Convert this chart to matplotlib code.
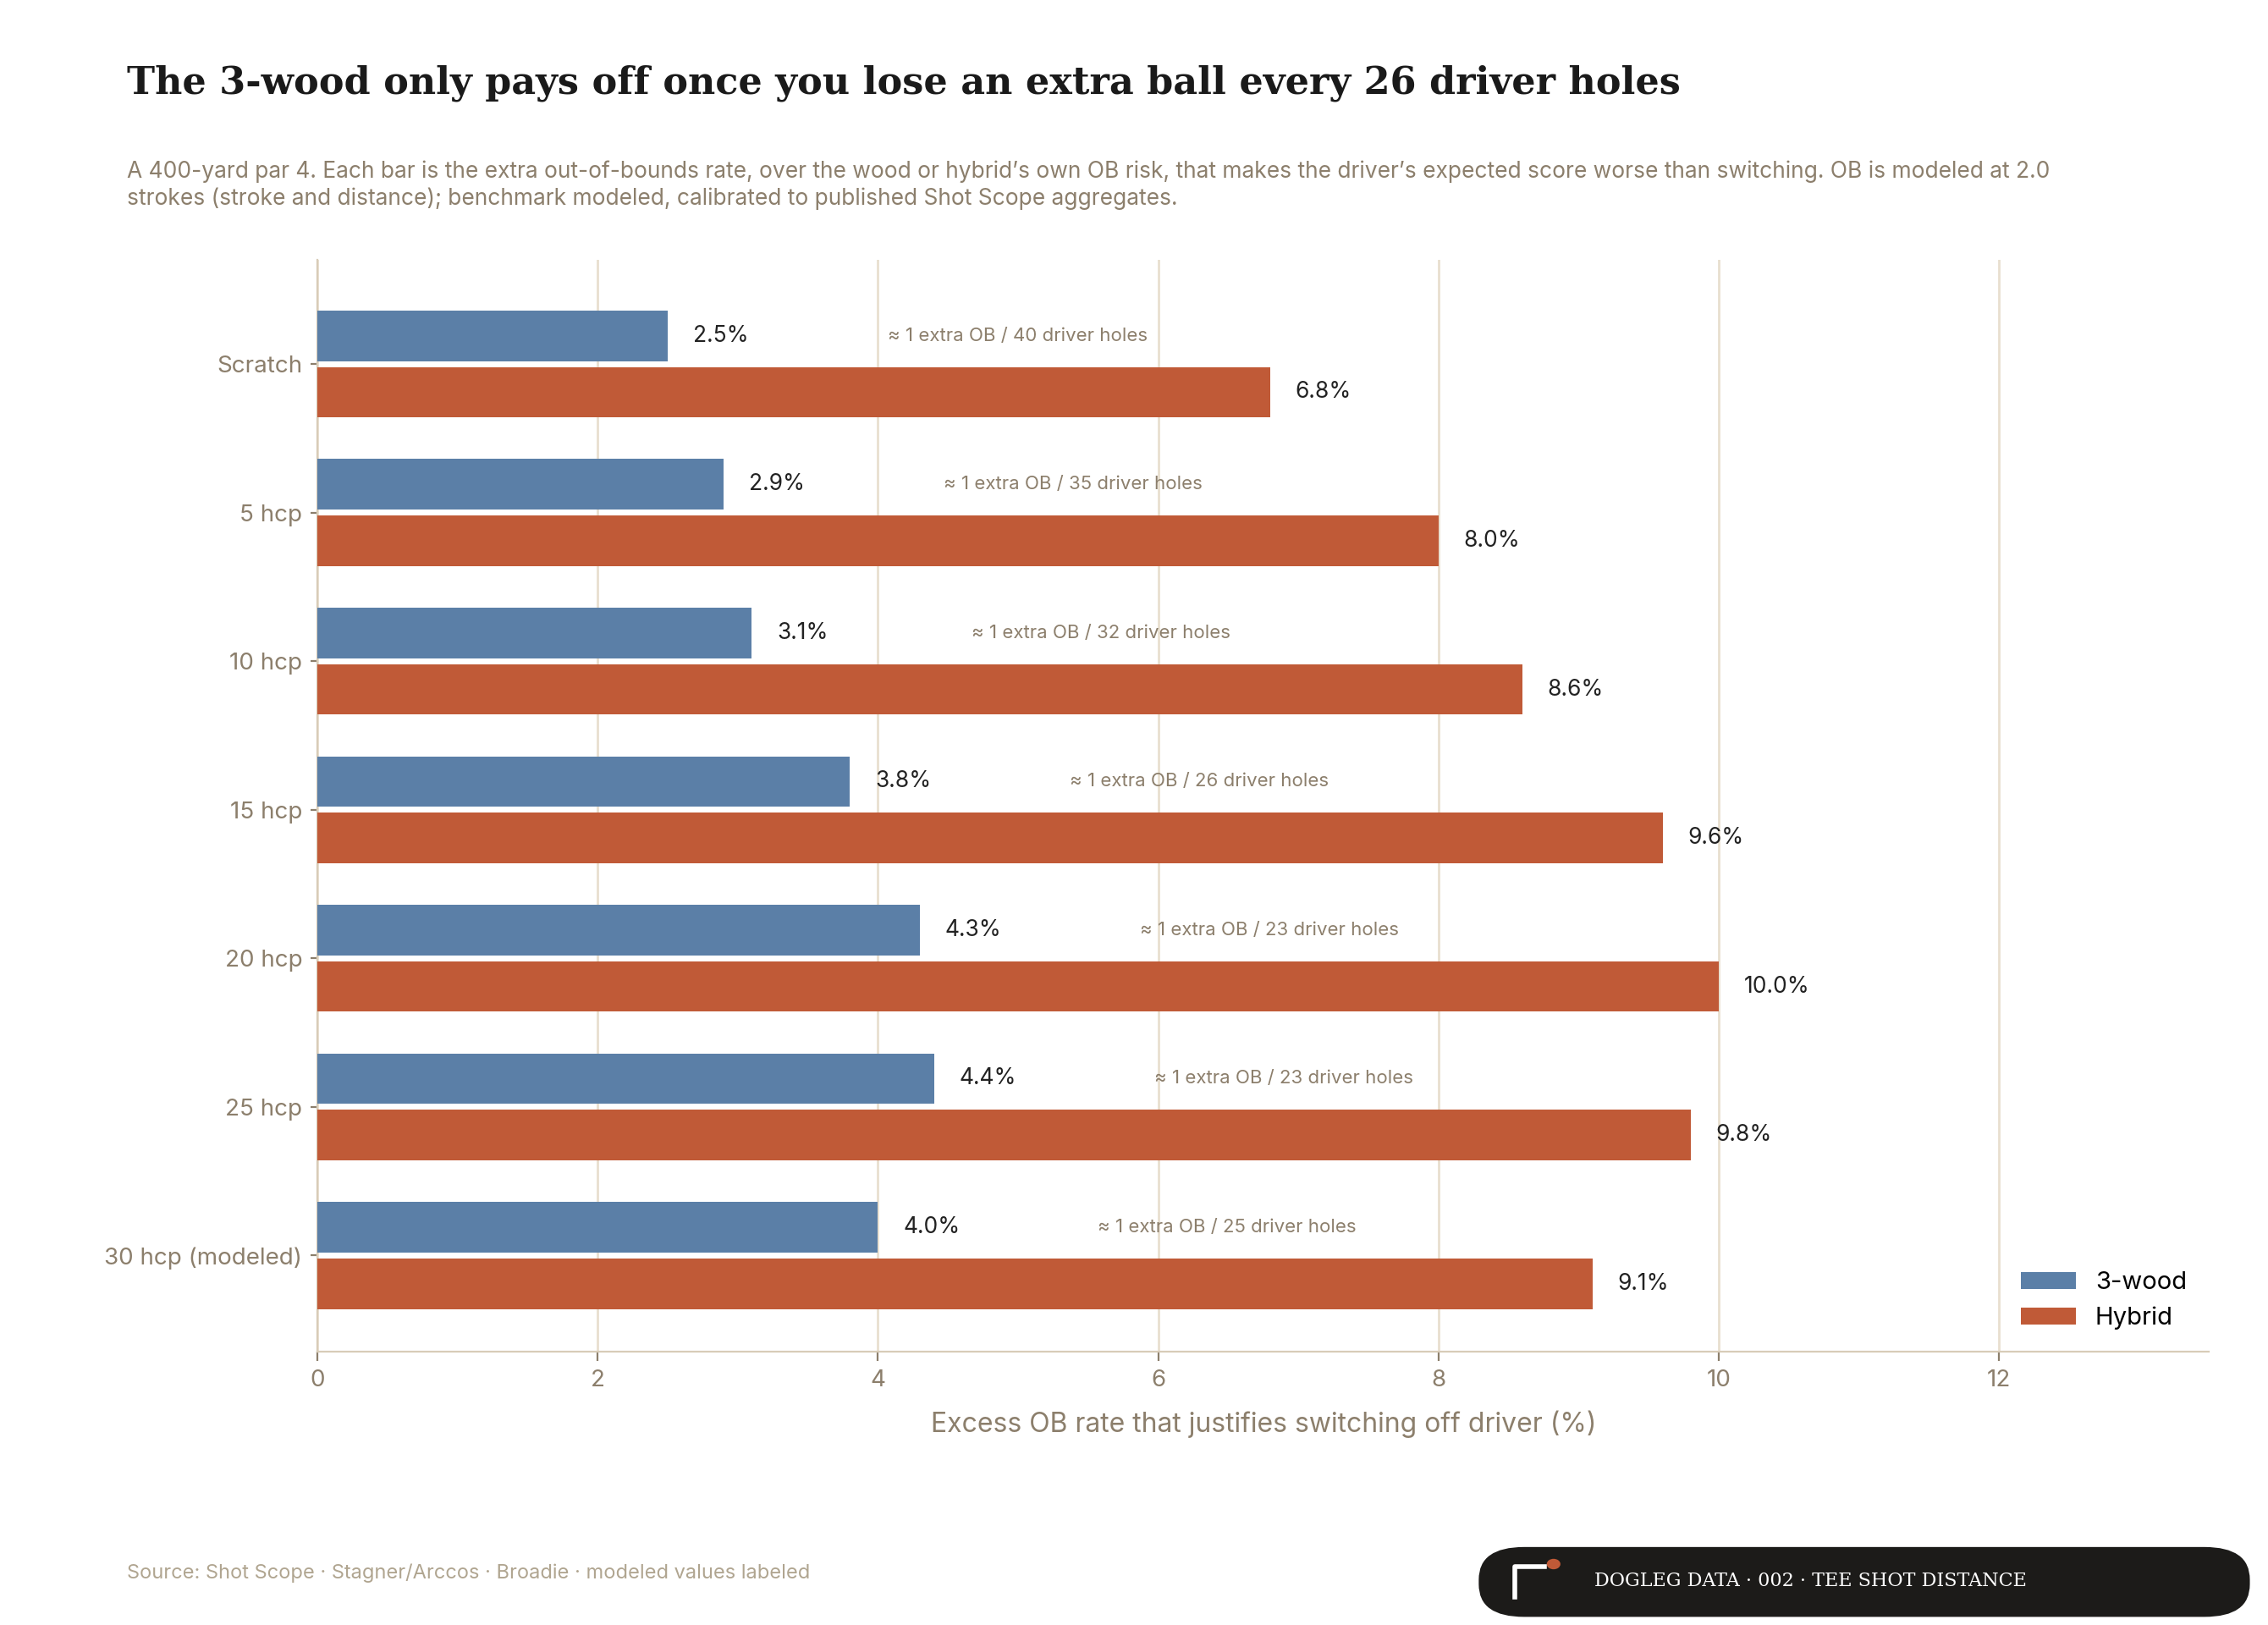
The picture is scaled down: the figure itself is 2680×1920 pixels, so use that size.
#!/usr/bin/env python3
import matplotlib
matplotlib.use('Agg')
import matplotlib.pyplot as plt
from matplotlib.patches import FancyBboxPatch
import numpy as np

#データ
groups = ["Scratch", "5 hcp", "10 hcp", "15 hcp", "20 hcp", "25 hcp", "30 hcp (modeled)"]
wood = [2.5, 2.9, 3.1, 3.8, 4.3, 4.4, 4.0]
hybrid = [6.8, 8.0, 8.6, 9.6, 10.0, 9.8, 9.1]
holes = [40, 35, 32, 26, 23, 23, 25]

blue = "#5b7fa7"
orange = "#c05a37"
muted = "#8c7f6c"

plt.rcParams['font.family'] = ['Inter', 'DejaVu Sans']

#グラフの大きさ指定
fig = plt.figure(figsize=(13.4, 9.6), dpi=200)
ax = fig.add_axes([0.140, 0.168, 0.834, 0.672])

y = np.arange(len(groups))
ax.barh(y - 0.19, wood, height=0.34, color=blue, label="3-wood", zorder=3)
ax.barh(y + 0.19, hybrid, height=0.34, color=orange, label="Hybrid", zorder=3)

#ラベル
for i in range(len(groups)):
    ax.text(wood[i] + 0.18, y[i] - 0.19, f"{wood[i]:.1f}%", va="center", fontsize=9.5, color="#222222")
    ax.text(hybrid[i] + 0.18, y[i] + 0.19, f"{hybrid[i]:.1f}%", va="center", fontsize=9.5, color="#222222")
    ax.text(wood[i] + 1.57, y[i] - 0.19, f"≈ 1 extra OB / {holes[i]} driver holes",
            va="center", fontsize=8, color=muted)

#グラフの軸
ax.set_yticks(y)
ax.set_yticklabels(groups)
ax.set_ylim(len(groups) - 0.35, -0.7)
ax.set_xlim(0, 13.5)
ax.set_xticks([0, 2, 4, 6, 8, 10, 12])
ax.tick_params(colors=muted, labelsize=10, length=4)
ax.tick_params(axis="y", length=3)
ax.grid(axis="x", color="#e8dfcf", linewidth=1, zorder=0)
for s in ["top", "right"]:
    ax.spines[s].set_visible(False)
ax.spines["left"].set_color("#d8ccb8")
ax.spines["bottom"].set_color("#d8ccb8")
ax.set_xlabel("Excess OB rate that justifies switching off driver (%)", color=muted, fontsize=11.5, labelpad=8)
ax.legend(loc="lower right", frameon=False, fontsize=10.5, handlelength=2.2, bbox_to_anchor=(1.0, 0.0))

#タイトル
fig.text(0.056, 0.949, "The 3-wood only pays off once you lose an extra ball every 26 driver holes",
         fontsize=16, fontweight="bold", family="DejaVu Serif", color="#1a1a1a", va="center")
fig.text(0.056, 0.886,
         "A 400-yard par 4. Each bar is the extra out-of-bounds rate, over the wood or hybrid\u2019s own OB risk, that makes the driver\u2019s expected score worse than switching. OB is modeled at 2.0\n"
         "strokes (stroke and distance); benchmark modeled, calibrated to published Shot Scope aggregates.",
         fontsize=9.5, color=muted, va="center", linespacing=1.3)
fig.text(0.056, 0.032, "Source: Shot Scope \u00b7 Stagner/Arccos \u00b7 Broadie \u00b7 modeled values labeled",
         fontsize=8.5, color="#b0a590", va="center")

#バッジ
badge = FancyBboxPatch((0.652, 0.005), 0.340, 0.043, boxstyle="round,pad=0,rounding_size=0.02",
                       transform=fig.transFigure, facecolor="#1c1b19", edgecolor="none")
fig.patches.append(badge)
fig.lines.append(plt.Line2D([0.668, 0.668, 0.681], [0.017, 0.036, 0.036], transform=fig.transFigure,
                            color="white", linewidth=2))
fig.patches.append(plt.Circle((0.685, 0.0375), 0.0025, transform=fig.transFigure, color=orange))
fig.text(0.703, 0.027, "DOGLEG DATA \u00b7 002 \u00b7 TEE SHOT DISTANCE", fontsize=8, family="DejaVu Serif",
         color="white", va="center")

#グラフを画像保存
plt.savefig('out.png', dpi=200)
